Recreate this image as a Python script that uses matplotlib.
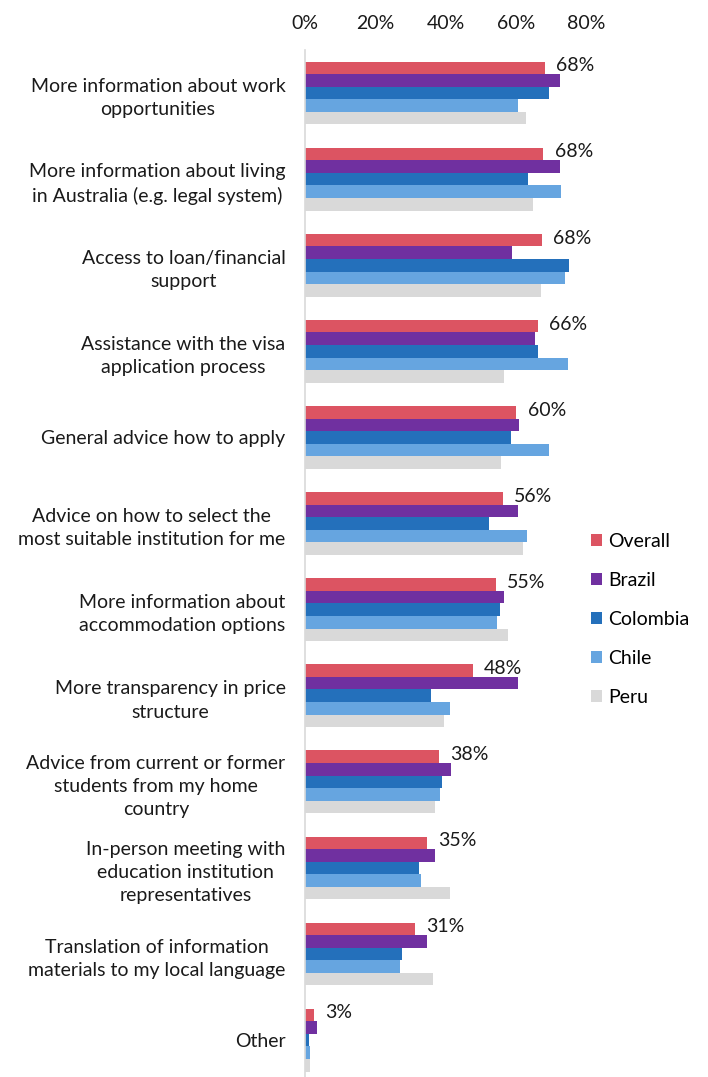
import matplotlib
matplotlib.use("Agg")
import matplotlib.pyplot as plt
import numpy as np
from matplotlib.patches import Patch

plt.rcParams['font.family'] = ['Lato', 'DejaVu Sans']

categories = [
    "More information about work\nopportunities",
    "More information about living\nin Australia (e.g. legal system)",
    "Access to loan/financial\nsupport",
    "Assistance with the visa\napplication process",
    "General advice how to apply",
    "Advice on how to select the\nmost suitable institution for me",
    "More information about\naccommodation options",
    "More transparency in price\nstructure",
    "Advice from current or former\nstudents from my home\ncountry",
    "In-person meeting with\neducation institution\nrepresentatives",
    "Translation of information\nmaterials to my local language",
    "Other",
]
series_names = ["Overall", "Brazil", "Colombia", "Chile", "Peru"]
overall  = [68.3, 67.9, 67.5, 66.3, 60.2, 56.3, 54.4, 47.8, 38.2, 34.8, 31.2, 2.7]
brazil   = [72.5, 72.5, 59.0, 65.6, 61.0, 60.6, 56.7, 60.6, 41.7, 37.0, 34.8, 3.4]
colombia = [69.4, 63.6, 75.2, 66.3, 58.6, 52.4, 55.6, 35.9, 38.9, 32.4, 27.7, 1.0]
chile    = [60.5, 72.9, 74.1, 74.8, 69.4, 63.2, 54.8, 41.3, 38.5, 33.1, 27.0, 1.5]
peru     = [62.9, 64.9, 67.1, 56.7, 55.9, 62.1, 57.8, 39.7, 37.0, 41.3, 36.3, 1.5]
overall_labels = ["68%", "68%", "68%", "66%", "60%", "56%", "55%", "48%", "38%", "35%", "31%", "3%"]
xticks = [0, 20, 40, 60, 80]
xtick_labels = ["0%", "20%", "40%", "60%", "80%"]

colors = ["#DC5462", "#7030A0", "#2470BB", "#66A5E0", "#D9D9D9"]

W, H = 708, 1077
fig = plt.figure(figsize=(W / 100, H / 100), dpi=100)
ax_left = 305 / W
ax_width = 281 / W
ax_top = 50
ax = fig.add_axes([ax_left, 0, ax_width, (H - ax_top) / H])

n = len(categories)
y = np.arange(n)
bh = 0.146
all_series = [overall, brazil, colombia, chile, peru]
for k, (vals, c, name) in enumerate(zip(all_series, colors, series_names)):
    offs = (k - 2) * bh
    ax.barh(y + offs, vals, height=bh, color=c, label=name, edgecolor='none')

for i in range(n):
    ax.annotate(overall_labels[i], xy=(overall[i], y[i] - 2 * bh), xytext=(8, 1.5),
                textcoords='offset points', ha='left', va='center', fontsize=14,
                color='#1a1a1a', annotation_clip=False)

slot = 86.1
ax.set_ylim(-0.5 + (H - ax_top) / slot, -0.5)
ax.set_xlim(0, 80)
ax.set_yticks(y)
ax.set_yticklabels(categories, fontsize=14, multialignment='center', color='#1a1a1a',
                   linespacing=1.45)
ax.set_xticks(xticks)
ax.set_xticklabels(xtick_labels, fontsize=14, color='#1a1a1a')
ax.xaxis.tick_top()
ax.tick_params(axis='both', length=0)
ax.tick_params(axis='y', pad=14)
ax.tick_params(axis='x', pad=13)
for s in ['top', 'right', 'bottom']:
    ax.spines[s].set_visible(False)
ax.spines['left'].set_color('#D9D9D9')
ax.spines['left'].set_linewidth(1.2)

handles = [Patch(facecolor=c, edgecolor='none') for c in colors]
fig.legend(handles, series_names, loc='upper left', bbox_to_anchor=(591 / W, 1 - 533 / H),
           frameon=False, fontsize=14, handlelength=0.55, handleheight=0.55,
           handletextpad=0.35, labelspacing=1.13, borderaxespad=0, borderpad=0)

fig.savefig("out.png", dpi=100)
